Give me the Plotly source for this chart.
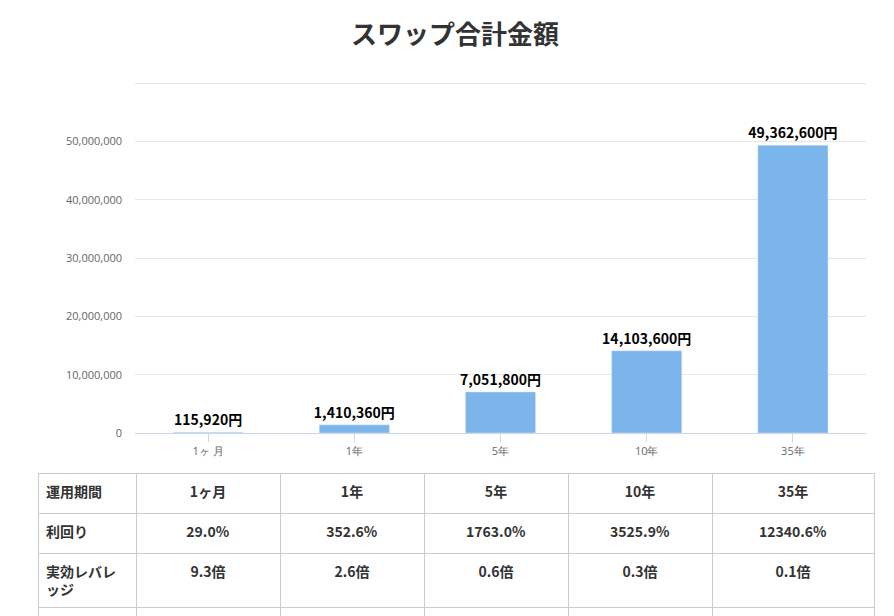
import plotly.graph_objects as go

categories = ["1ヶ月", "1年", "5年", "10年", "35年"]
axis_labels = ["1ヶ 月", "1年", "5年", "10年", "35年"]
values = [115920, 1410360, 7051800, 14103600, 49362600]
yields = ["29.0%", "352.6%", "1763.0%", "3525.9%", "12340.6%"]
leverage = ["9.3倍", "2.6倍", "0.6倍", "0.3倍", "0.1倍"]
row_heads = ["運用期間", "利回り", "実効レバレ<br>ッジ", ""]
tick_vals = [0, 10000000, 20000000, 30000000, 40000000, 50000000, 60000000]

W, H = 894, 616
fig = go.Figure()
fig.add_trace(go.Bar(
    x=axis_labels, y=values, marker_color="#7cb5ec",
    text=[f"<b>{v:,}円</b>" for v in values], textposition="outside",
    constraintext="none",
    textfont=dict(size=14, color="#000", family="Noto Sans CJK JP"),
    cliponaxis=False, hoverinfo="skip"))

def b(s):
    return f"<b>{s}</b>" if s else ""

cols = [[b(r) for r in row_heads]]
for i in range(5):
    cols.append([b(categories[i]), b(yields[i]), b(leverage[i]), ""])
fig.add_trace(go.Table(
    domain=dict(x=[30/W, 866/W], y=[0, 1-465/H]),
    columnwidth=[98, 144, 144, 144, 144, 162],
    header=dict(values=[c[0] for c in cols], height=40,
                align=["left"] + ["center"]*5,
                line=dict(color="#cccccc", width=1), fill_color="white",
                font=dict(size=14, color="#333", family="Noto Sans CJK JP")),
    cells=dict(values=[c[1:] for c in cols], height=40,
               align=["left"] + ["center"]*5,
               line=dict(color="#cccccc", width=1), fill_color="white",
               font=dict(size=14, color="#333", family="Noto Sans CJK JP"))))

fig.update_layout(
    width=W, height=H, margin=dict(l=0, r=0, t=0, b=0),
    paper_bgcolor="white", plot_bgcolor="white", showlegend=False,
    bargap=0.52,
    title=dict(text="<b>スワップ合計金額</b>", x=0.5, xanchor="center",
               y=1-27/H, yanchor="middle",
               font=dict(size=26, color="#333", family="Noto Sans CJK JP")),
    xaxis=dict(domain=[127/W, 858/W], anchor="y", showline=True, automargin=False,
               linecolor="#ccd6eb", ticks="outside", tickcolor="#ccd6eb",
               ticklen=8, tickfont=dict(size=11, color="#666")),
    yaxis=dict(domain=[1-425/H, 1-74/H], range=[0, 60200000], automargin=False,
               tickvals=tick_vals,
               ticktext=[f"{v:,}" for v in tick_vals[:-1]] + [""],
               gridcolor="#e6e6e6", zeroline=False, ticks="",
               tickfont=dict(size=11, color="#666"), ticklabelstandoff=12),
)
fig.write_html("out.html")
